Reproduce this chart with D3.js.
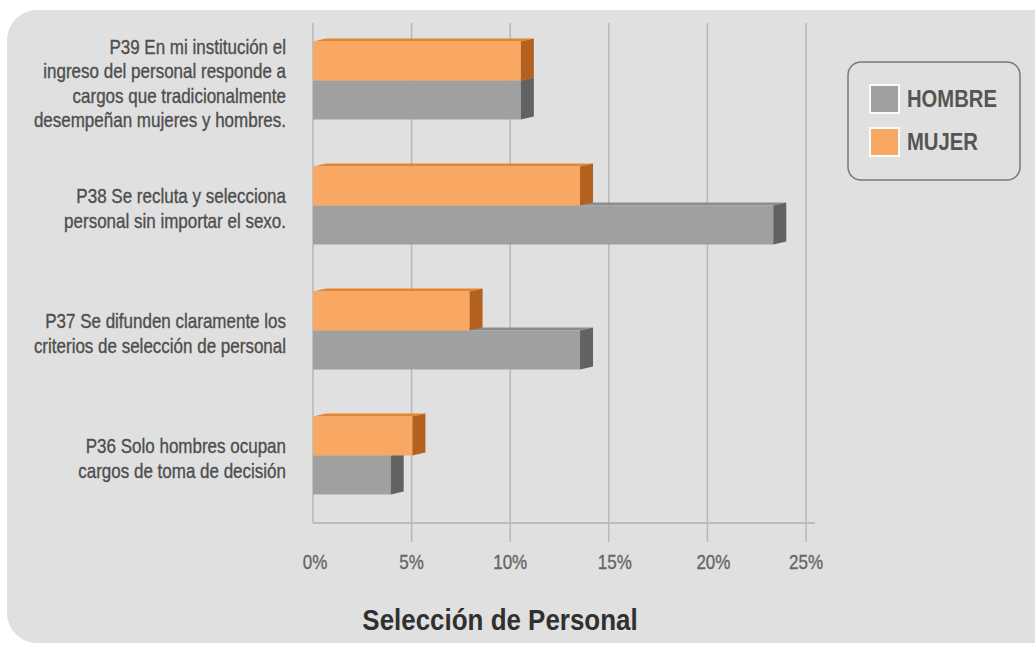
<!DOCTYPE html>
<html><head><meta charset="utf-8">
<script src="https://cdn.jsdelivr.net/npm/d3@7"></script>
<style>html,body{margin:0;padding:0;background:#fff;} svg{display:block;}</style>
</head><body>
<svg id="chart" width="1035" height="648"></svg>
<script>
// Survey block: "Selección de Personal" (percent of respondents by sex)
const categories = ["P39", "P38", "P37", "P36"];
const categoryLines = [
  ["P39 En mi institución el", "ingreso del personal responde a", "cargos que tradicionalmente", "desempeñan mujeres y hombres."],
  ["P38 Se recluta y selecciona", "personal sin importar el sexo."],
  ["P37 Se difunden claramente los", "criterios de selección de personal"],
  ["P36 Solo hombres ocupan", "cargos de toma de decisión"]
];
const series = ["MUJER", "HOMBRE"];
const mujer = [11.2, 14.2, 8.6, 5.7];
const hombre = [11.2, 24.0, 14.2, 4.6];
const tickValues = [0, 5, 10, 15, 20, 25];
const legendItems = ["HOMBRE", "MUJER"];
const chartTitle = "Selección de Personal";

const FONT = "'Liberation Sans', Arial, sans-serif";
const NARROW = 0.85; // horizontal squeeze for the condensed lettering
const colors = {
  MUJER:  { front: "#f8a862", side: "#b4611f", top: "#e8842e" },
  HOMBRE: { front: "#a0a0a0", side: "#626262", top: "#8c8c8c" }
};
const depth = 13, lift = 3;

const svg = d3.select("#chart");

// condensed text placed at (px, py)
function narrowText(sel, px, py, sx) {
  return sel.attr("transform", `translate(${px},${py}) scale(${sx},1)`)
    .attr("x", 0).attr("y", 0);
}

// rounded background panel
svg.append("rect")
  .attr("x", 7).attr("y", 10).attr("width", 1060).attr("height", 633)
  .attr("rx", 30).attr("fill", "#e0e0e0");

const plot = { left: 313, right: 806, top: 23, bottom: 523 };

const x = d3.scaleLinear().domain([0, 25]).range([plot.left, plot.right]);
const y = d3.scaleBand().domain(categories).range([plot.top - 5, plot.bottom - 5])
  .paddingInner(0.376).paddingOuter(0.188);
const ys = d3.scaleBand().domain(series).range([0, y.bandwidth()]);

// vertical gridlines (extend below the floor as ticks)
svg.append("g").selectAll("line")
  .data(tickValues.filter(d => d > 0))
  .join("line")
  .attr("x1", d => x(d)).attr("x2", d => x(d))
  .attr("y1", plot.top).attr("y2", plot.bottom + 19)
  .attr("stroke", "#b7b7b7").attr("stroke-width", 1.5);

// left wall and floor edge
svg.append("line")
  .attr("x1", plot.left).attr("x2", plot.left)
  .attr("y1", plot.top).attr("y2", plot.bottom)
  .attr("stroke", "#b7b7b7").attr("stroke-width", 1.5);
svg.append("line")
  .attr("x1", plot.left).attr("x2", x(25) + 9)
  .attr("y1", plot.bottom).attr("y2", plot.bottom)
  .attr("stroke", "#bcbcbc").attr("stroke-width", 2);

// tick labels
svg.append("g").selectAll("text")
  .data(tickValues)
  .join("text")
  .each(function (d) {
    narrowText(d3.select(this), x(d) + (d === 0 ? 2 : d >= 15 && d < 25 ? 6 : 0), 562, NARROW);
  })
  .attr("text-anchor", "middle")
  .attr("dominant-baseline", "central")
  .attr("font-family", FONT).attr("font-size", 20)
  .attr("fill", "#666666").attr("stroke", "#666666").attr("stroke-width", 0.35)
  .text(d => d + "%");

// bars with a pseudo-3D side and top face
const rows = [];
categories.forEach((c, i) => {
  rows.push({ cat: c, s: "HOMBRE", v: hombre[i] });
  rows.push({ cat: c, s: "MUJER", v: mujer[i] });
});

const bars = svg.append("g").selectAll("g").data(rows).join("g");
bars.each(function (d) {
  const g = d3.select(this);
  const x0 = x(0);
  const xe = x(d.v);
  const xf = xe - depth;
  const t = y(d.cat) + ys(d.s);
  const b = t + ys.bandwidth();
  const col = colors[d.s];
  g.append("polygon")
    .attr("points", [[x0, t], [x0 + depth, t - lift], [xe, t - lift], [xf, t]].join(" "))
    .attr("fill", col.top);
  g.append("rect")
    .attr("x", x0).attr("y", t).attr("width", xf - x0).attr("height", b - t)
    .attr("fill", col.front);
  g.append("polygon")
    .attr("points", [[xf, t], [xe, t - lift], [xe, b - lift], [xf, b]].join(" "))
    .attr("fill", col.side);
});

// category labels
svg.append("g").selectAll("text")
  .data(categories)
  .join("text")
  .attr("text-anchor", "end")
  .attr("font-family", FONT).attr("font-size", 20)
  .attr("fill", "#4e4e4e").attr("stroke", "#4e4e4e").attr("stroke-width", 0.35)
  .each(function (c, i) {
    const lines = categoryLines[i];
    const lh = 24.5;
    const cy = y(c) + y.bandwidth() / 2 + 3;
    const start = cy - (lines.length - 1) * lh / 2;
    d3.select(this)
      .attr("transform", `translate(286,${start}) scale(${NARROW},1)`)
      .selectAll("tspan").data(lines).join("tspan")
      .attr("x", 0)
      .attr("y", (l, j) => j * lh)
      .attr("dominant-baseline", "central")
      .text(l => l);
  });

// title
narrowText(svg.append("text"), 500, 620, 0.865)
  .attr("text-anchor", "middle").attr("dominant-baseline", "central")
  .attr("font-family", FONT).attr("font-size", 30).attr("font-weight", "bold")
  .attr("fill", "#303030")
  .text(chartTitle);

// legend
const legend = svg.append("g");
legend.append("rect")
  .attr("x", 848).attr("y", 62).attr("width", 172).attr("height", 118)
  .attr("rx", 13).attr("fill", "none")
  .attr("stroke", "#7a7a7a").attr("stroke-width", 1.5);
const li = legend.selectAll("g").data(legendItems).join("g")
  .attr("transform", (d, i) => `translate(0, ${i * 43})`);
li.append("rect")
  .attr("x", 869).attr("y", 84).attr("width", 31).attr("height", 30)
  .attr("fill", "#fafafa");
li.append("rect")
  .attr("x", 871).attr("y", 86).attr("width", 27).attr("height", 26)
  .attr("fill", d => colors[d].front);
li.append("text")
  .each(function () { narrowText(d3.select(this), 907, 99, 0.88); })
  .attr("dominant-baseline", "central")
  .attr("font-family", FONT).attr("font-size", 23).attr("font-weight", "bold")
  .attr("fill", "#555555")
  .text(d => d);
</script>
</body></html>
